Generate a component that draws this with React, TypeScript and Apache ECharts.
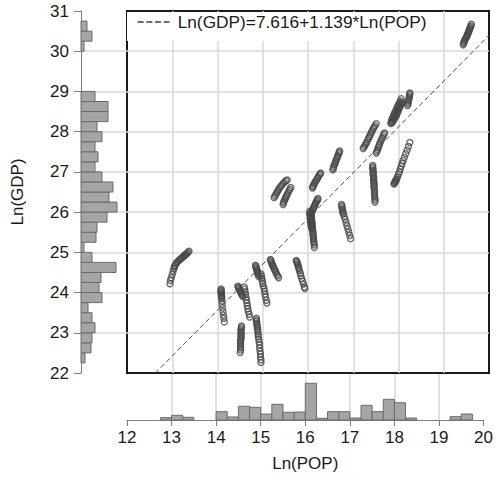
import React, { useEffect, useRef } from "react";
import * as echarts from "echarts";

const FONT = '"Liberation Sans", Arial, Helvetica, sans-serif';

// Histogram of Ln(POP) (bottom): lower bin edges and bar heights
const BIN = 0.25;
const popBinLow = [12.75, 13.0, 13.25, 14.0, 14.25, 14.5, 14.75, 15.0, 15.25, 15.5, 15.75, 16.0, 16.25, 16.5, 16.75, 17.0, 17.25, 17.5, 17.75, 18.0, 18.25, 19.25, 19.5];
const popBinCount = [2.3, 4.7, 2.7, 8.3, 3, 13.7, 12.7, 6, 15.7, 7.7, 8, 36.7, 1.7, 8.3, 8.3, 2, 14.7, 8.3, 20.7, 17.3, 2, 3.3, 6];

// Histogram of Ln(GDP) (left)
const gdpBinLow = [22.25, 22.5, 22.75, 23.0, 23.25, 23.5, 23.75, 24.0, 24.25, 24.5, 24.75, 25.0, 25.25, 25.5, 25.75, 26.0, 26.25, 26.5, 26.75, 27.0, 27.25, 27.5, 27.75, 28.0, 28.25, 28.5, 28.75, 30.0, 30.25, 30.5];
const gdpBinCount = [4, 10, 11, 14, 11, 7, 21, 18, 20, 35, 11, 3, 15, 16, 26, 36, 28, 32, 21, 14, 17, 14, 21, 16, 27, 27, 14, 3, 11, 6];

// Fitted line
const fitIntercept = 7.616;
const fitSlope = 1.139;
const fitName = "Ln(GDP)=7.616+1.139*Ln(POP)";

// Axis ranges
const popTicks = [12, 20];
const gdpTicks = [22, 31];

// Scatter groups: [Ln(POP), Ln(GDP)]
const gA = [[19.43,30.16],[19.44,30.2],[19.45,30.23],[19.46,30.26],[19.47,30.29],[19.49,30.32],[19.5,30.35],[19.51,30.37],[19.52,30.4],[19.53,30.43],[19.54,30.45],[19.55,30.48],[19.56,30.51],[19.57,30.54],[19.58,30.57],[19.59,30.6],[19.6,30.63],[19.61,30.67]];
const g1 = [[12.95,24.22],[12.96,24.3],[12.98,24.37],[13.0,24.45],[13.02,24.53],[13.04,24.6],[13.05,24.64],[13.06,24.67],[13.08,24.71],[13.1,24.74],[13.12,24.77],[13.15,24.8],[13.17,24.82],[13.19,24.84],[13.21,24.86],[13.23,24.88],[13.25,24.9],[13.27,24.92],[13.29,24.94],[13.31,24.96],[13.33,24.98],[13.35,25.0],[13.37,25.03]];
const g2 = [[14.08,24.09],[14.08,24.06],[14.08,24.03],[14.08,24.0],[14.08,23.97],[14.09,23.94],[14.09,23.91],[14.09,23.88],[14.09,23.85],[14.1,23.79],[14.1,23.71],[14.11,23.62],[14.12,23.53],[14.13,23.44],[14.14,23.36],[14.15,23.27]];
const g3a = [[14.45,24.16],[14.46,24.13],[14.47,24.11],[14.48,24.08],[14.5,24.05],[14.51,24.02],[14.52,23.99],[14.53,23.96],[14.55,23.93],[14.56,23.9]];
const g3b = [[14.59,24.14],[14.6,24.08],[14.61,24.02],[14.62,23.95],[14.63,23.88],[14.64,23.81],[14.65,23.74],[14.66,23.67],[14.67,23.6],[14.68,23.53],[14.7,23.46],[14.71,23.39]];
const g4 = [[14.53,23.17],[14.53,23.13],[14.52,23.09],[14.52,23.05],[14.52,23.01],[14.52,22.97],[14.52,22.93],[14.52,22.89],[14.52,22.85],[14.51,22.81],[14.51,22.77],[14.51,22.72],[14.51,22.67],[14.51,22.62],[14.51,22.57],[14.5,22.51]];
const g5a = [[14.84,24.68],[14.85,24.65],[14.85,24.62],[14.86,24.59],[14.87,24.56],[14.88,24.53],[14.88,24.5],[14.89,24.47],[14.9,24.44],[14.91,24.4]];
const g5b = [[14.96,24.46],[14.97,24.41],[14.98,24.35],[14.99,24.29],[15.0,24.23],[15.01,24.16],[15.03,24.1],[15.04,24.03],[15.05,23.96],[15.06,23.89],[15.08,23.81],[15.09,23.74]];
const g6 = [[14.86,23.36],[14.86,23.32],[14.86,23.28],[14.87,23.24],[14.87,23.2],[14.88,23.16],[14.88,23.12],[14.89,23.07],[14.89,23.02],[14.9,22.96],[14.9,22.9],[14.91,22.84],[14.92,22.77],[14.93,22.7],[14.93,22.62],[14.94,22.54],[14.95,22.47],[14.95,22.4],[14.96,22.33],[14.96,22.26]];
const g7 = [[15.17,24.82],[15.18,24.79],[15.19,24.76],[15.2,24.73],[15.21,24.7],[15.22,24.67],[15.23,24.64],[15.25,24.6],[15.26,24.57],[15.28,24.53],[15.29,24.5],[15.31,24.45],[15.33,24.41],[15.35,24.37]];
const g8 = [[15.74,24.8],[15.75,24.77],[15.76,24.74],[15.77,24.71],[15.78,24.67],[15.79,24.63],[15.8,24.59],[15.81,24.54],[15.83,24.48],[15.84,24.42],[15.86,24.35],[15.88,24.28],[15.9,24.21],[15.92,24.14],[15.93,24.1]];
const g9a = [[15.25,26.36],[15.27,26.4],[15.29,26.44],[15.31,26.48],[15.33,26.52],[15.35,26.56],[15.37,26.6],[15.4,26.64],[15.42,26.67],[15.45,26.71],[15.48,26.74],[15.51,26.78],[15.54,26.8]];
const g9b = [[15.45,26.19],[15.46,26.23],[15.47,26.27],[15.49,26.31],[15.5,26.35],[15.52,26.39],[15.54,26.43],[15.56,26.48],[15.58,26.53],[15.6,26.57],[15.62,26.61]];
const g10 = [[16.1,26.6],[16.11,26.63],[16.12,26.66],[16.14,26.7],[16.15,26.73],[16.17,26.77],[16.19,26.8],[16.21,26.84],[16.23,26.88],[16.25,26.92],[16.27,26.95],[16.28,26.97]];
const g11 = [[16.55,27.05],[16.56,27.09],[16.57,27.13],[16.58,27.17],[16.6,27.21],[16.61,27.25],[16.62,27.29],[16.64,27.33],[16.65,27.37],[16.66,27.41],[16.68,27.45],[16.69,27.49],[16.7,27.52]];
const g12 = [[17.22,27.58],[17.24,27.62],[17.26,27.66],[17.28,27.7],[17.3,27.74],[17.32,27.79],[17.34,27.84],[17.36,27.88],[17.38,27.93],[17.4,27.98],[17.42,28.02],[17.44,28.07],[17.46,28.11],[17.48,28.15],[17.51,28.2]];
const g13 = [[17.51,27.47],[17.52,27.51],[17.54,27.55],[17.55,27.6],[17.57,27.65],[17.58,27.69],[17.6,27.74],[17.62,27.79],[17.64,27.84],[17.66,27.89],[17.68,27.94],[17.69,27.97]];
const g14a = [[17.83,28.2],[17.84,28.24],[17.85,28.28],[17.86,28.32],[17.88,28.36],[17.89,28.4],[17.91,28.44],[17.92,28.48],[17.94,28.52],[17.96,28.56],[17.97,28.6],[17.99,28.64],[18.0,28.67],[18.02,28.71],[18.04,28.76],[18.06,28.82]];
const g14b = [[17.86,28.22],[17.88,28.26],[17.9,28.3],[17.92,28.34],[17.94,28.38],[17.96,28.42],[17.97,28.46],[17.99,28.5],[18.0,28.54],[18.02,28.58],[18.03,28.62],[18.05,28.66],[18.06,28.7],[18.07,28.74]];
const g15 = [[18.2,28.65],[18.21,28.69],[18.21,28.73],[18.22,28.77],[18.23,28.81],[18.24,28.85],[18.24,28.89],[18.25,28.93],[18.25,28.96]];
const g16 = [[17.43,27.16],[17.43,27.12],[17.43,27.08],[17.44,27.04],[17.44,27.0],[17.44,26.96],[17.44,26.92],[17.45,26.88],[17.45,26.84],[17.45,26.8],[17.45,26.76],[17.46,26.72],[17.46,26.68],[17.46,26.64],[17.46,26.6],[17.47,26.55],[17.47,26.5],[17.47,26.45],[17.47,26.4],[17.48,26.35],[17.48,26.3],[17.48,26.25]];
const g17 = [[17.9,26.7],[17.91,26.72],[17.92,26.74],[17.93,26.76],[17.94,26.78],[17.95,26.8],[17.96,26.83],[17.98,26.88],[18.0,26.94],[18.02,27.0],[18.04,27.07],[18.06,27.14],[18.08,27.21],[18.1,27.28],[18.13,27.36],[18.16,27.45],[18.19,27.54],[18.22,27.63],[18.25,27.73]];
const g18a = [[16.22,26.34],[16.21,26.31],[16.2,26.28],[16.18,26.25],[16.17,26.22],[16.16,26.19],[16.14,26.15],[16.13,26.12],[16.12,26.09],[16.1,26.05],[16.09,26.02],[16.08,25.99],[16.07,25.95],[16.07,25.91],[16.08,25.87],[16.08,25.83],[16.08,25.79],[16.09,25.75],[16.09,25.71],[16.09,25.67],[16.1,25.63],[16.1,25.59],[16.1,25.55],[16.11,25.51],[16.11,25.47],[16.11,25.43],[16.12,25.39],[16.12,25.35],[16.12,25.31],[16.13,25.27],[16.13,25.23],[16.14,25.18],[16.14,25.12]];
const g18b = [[16.04,26.02],[16.04,25.97],[16.04,25.93],[16.05,25.88],[16.05,25.84],[16.05,25.8],[16.06,25.76],[16.06,25.72],[16.07,25.68],[16.07,25.64],[16.08,25.6]];
const g19 = [[16.74,26.19],[16.75,26.15],[16.75,26.11],[16.76,26.07],[16.77,26.03],[16.77,25.99],[16.78,25.95],[16.8,25.89],[16.82,25.82],[16.84,25.74],[16.86,25.66],[16.88,25.58],[16.9,25.5],[16.92,25.42],[16.94,25.34]];

const scatterGroups = [gA, g1, g2, g3a, g3b, g4, g5a, g5b, g6, g7, g8, g9a, g9b, g10, g11, g12, g13, g14a, g14b, g15, g16, g17, g18a, g18b, g19];

const GRID_LINE = { show: true, showMinLine: false, showMaxLine: false, lineStyle: { color: "#d9d9d9", width: 1.5 } };
const AXIS_GRAY = "#7f7f7f";
const BAR_FILL = "#a5a5a5";
const BAR_STROKE = "#6b6b6b";
const POINT_COLOR = "#474747";

function buildOption() {
  const points = scatterGroups.flat();
  const fitData = [
    [popTicks[0], fitIntercept + fitSlope * popTicks[0]],
    [popTicks[1], fitIntercept + fitSlope * popTicks[1]],
  ];
  const leftData = gdpBinLow.map((lo, i) => [lo, gdpBinCount[i]]);
  const bottomData = popBinLow.map((lo, i) => [lo, popBinCount[i]]);

  return {
    animation: false,
    backgroundColor: "#ffffff",
    textStyle: { fontFamily: FONT },
    legend: {
      data: [fitName],
      left: 127,
      top: 12,
      padding: [1, 10, 10, 10],
      backgroundColor: "#ffffff",
      itemWidth: 32,
      itemHeight: 10,
      itemStyle: { opacity: 0 },
      lineStyle: { color: "#3c3c3c", width: 1.3, type: [6, 2.7] },
      textStyle: { fontSize: 17.3, color: "#1a1a1a", fontFamily: FONT, lineHeight: 18, padding: [0, 0, 0, 3] },
      selectedMode: false,
    },
    grid: [
      { left: 127, top: 11, width: 362, height: 362, show: true, borderColor: "#1a1a1a", borderWidth: 2, backgroundColor: "transparent" },
      { left: 81, top: 11, width: 46, height: 362 },
      { left: 127, top: 374, width: 362, height: 46 },
    ],
    xAxis: [
      { type: "value", gridIndex: 0, min: popTicks[0], max: popTicks[1], interval: 1, axisLabel: { show: false }, axisTick: { show: false }, axisLine: { show: false }, splitLine: GRID_LINE },
      { type: "value", gridIndex: 1, min: 0, max: 46, show: false, splitLine: { show: false } },
      {
        type: "value", gridIndex: 2, min: popTicks[0], max: popTicks[1], interval: 1, position: "bottom",
        name: "Ln(POP)", nameLocation: "middle", nameGap: 35,
        nameTextStyle: { fontSize: 17, color: "#1a1a1a", fontFamily: FONT },
        axisLabel: { fontSize: 17, color: "#1a1a1a", margin: 9, fontFamily: FONT },
        axisTick: { show: true, length: 6, lineStyle: { color: AXIS_GRAY } },
        axisLine: { show: true, onZero: false, lineStyle: { color: AXIS_GRAY, width: 1 } },
        splitLine: GRID_LINE,
      },
    ],
    yAxis: [
      { type: "value", gridIndex: 0, min: gdpTicks[0], max: gdpTicks[1], interval: 1, axisLabel: { show: false }, axisTick: { show: false }, axisLine: { show: false }, splitLine: GRID_LINE },
      {
        type: "value", gridIndex: 1, min: gdpTicks[0], max: gdpTicks[1], interval: 1, position: "left",
        name: "Ln(GDP)", nameLocation: "middle", nameGap: 55,
        nameTextStyle: { fontSize: 17, color: "#1a1a1a", fontFamily: FONT },
        axisLabel: { fontSize: 17, color: "#1a1a1a", margin: 12, fontFamily: FONT, padding: [0, 0, 6, 0] },
        axisTick: { show: true, length: 7, lineStyle: { color: AXIS_GRAY } },
        axisLine: { show: true, onZero: false, lineStyle: { color: AXIS_GRAY, width: 1 } },
        splitLine: GRID_LINE,
      },
      { type: "value", gridIndex: 2, min: 0, max: 46, show: false, splitLine: { show: false } },
    ],
    series: [
      {
        type: "custom",
        xAxisIndex: 1,
        yAxisIndex: 1,
        encode: { x: 1, y: 0 },
        data: leftData,
        renderItem: (params: any, api: any) => {
          const lo = api.value(0);
          const cnt = api.value(1);
          const a = api.coord([0, lo + BIN]);
          const b = api.coord([cnt, lo]);
          return {
            type: "rect",
            shape: { x: a[0], y: a[1], width: b[0] - a[0], height: b[1] - a[1] },
            style: { fill: BAR_FILL, stroke: BAR_STROKE, lineWidth: 1 },
          };
        },
      },
      {
        type: "custom",
        xAxisIndex: 2,
        yAxisIndex: 2,
        encode: { x: 0, y: 1 },
        data: bottomData,
        renderItem: (params: any, api: any) => {
          const lo = api.value(0);
          const cnt = api.value(1);
          const a = api.coord([lo, cnt]);
          const b = api.coord([lo + BIN, 0]);
          return {
            type: "rect",
            shape: { x: a[0], y: a[1], width: b[0] - a[0], height: b[1] - a[1] },
            style: { fill: BAR_FILL, stroke: BAR_STROKE, lineWidth: 1 },
          };
        },
      },
      {
        type: "scatter",
        xAxisIndex: 0,
        yAxisIndex: 0,
        data: points,
        symbol: "circle",
        symbolSize: 6,
        itemStyle: { color: "rgba(0,0,0,0)", borderColor: POINT_COLOR, borderWidth: 1.4 },
        emphasis: { disabled: true },
      },
      {
        name: fitName,
        type: "line",
        xAxisIndex: 0,
        yAxisIndex: 0,
        data: fitData,
        symbol: "none",
        clip: true,
        lineStyle: { color: "#505050", width: 1, type: [5, 3] },
        itemStyle: { color: "#505050" },
        emphasis: { disabled: true },
      },
    ],
  };
}

export default function App() {
  const ref = useRef<HTMLDivElement>(null);
  useEffect(() => {
    if (!ref.current) return;
    const chart = echarts.init(ref.current, null, { renderer: "svg" });
    chart.setOption(buildOption() as any);
    return () => chart.dispose();
  }, []);
  return <div ref={ref} style={{ position: "absolute", left: 0, top: 0, width: 496, height: 478 }} />;
}
